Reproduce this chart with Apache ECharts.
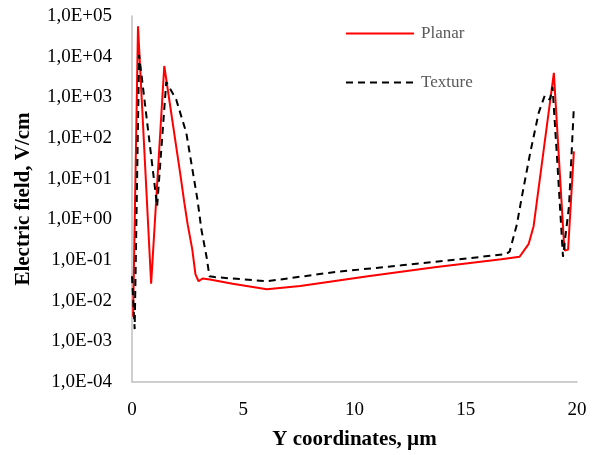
<!DOCTYPE html>
<html>
<head>
<meta charset="utf-8">
<script src="https://cdn.jsdelivr.net/npm/echarts@6/dist/echarts.min.js"></script>
<style>
  html, body { margin: 0; padding: 0; background: #fff; }
  #chart { width: 594px; height: 455px; }
</style>
</head>
<body>
<div id="chart"></div>
<script>
// data, x in um, y in V/cm
var planarX = [0.05, 0.27, 0.86, 1.45, 2.2, 2.35, 2.5, 2.71, 2.85, 2.99, 3.17, 3.5, 4.52, 6.06, 7.56, 10.6, 13.6, 16.6, 17.42, 17.83, 18.05, 18.96, 19.41, 19.46, 19.6, 19.86];
var planarY = [0.004, 56000, 0.026, 5900, 10, 2.6, 0.76, 0.18, 0.045, 0.030, 0.035, 0.033, 0.026, 0.019, 0.023, 0.040, 0.066, 0.105, 0.12, 0.25, 0.68, 4000, 0.29, 0.17, 0.18, 47];

var textureX = [0.0, 0.12, 0.32, 1.13, 1.54, 1.99, 2.44, 2.94, 3.12, 3.35, 3.48, 3.71, 6.06, 9.05, 12.1, 15.1, 16.8, 16.97, 17.3, 17.5, 17.9, 18.28, 18.55, 18.78, 18.9, 19.1, 19.37, 19.64, 19.86];
var textureY = [0.04, 0.002, 11000, 2.1, 2400, 870, 134, 3.1, 0.56, 0.12, 0.040, 0.038, 0.030, 0.050, 0.074, 0.11, 0.14, 0.16, 0.76, 3.1, 44, 420, 1100, 870, 1800, 35, 0.12, 2.1, 590];

var xTicks = [0, 5, 10, 15, 20];

function pairs(xs, ys) {
    var out = [];
    for (var i = 0; i < xs.length; i++) {
        out.push([xs[i], ys[i]]);
    }
    return out;
}

function sciLabel(v) {  // 1,0E+05 style
    var e = Math.round(Math.log10(v));
    var s = e < 0 ? '-' : '+';
    var a = Math.abs(e);
    return '1,0E' + s + (a < 10 ? '0' + a : a);
}

var font = '"Liberation Serif", "Times New Roman", serif';

var myChart = echarts.init(document.getElementById('chart'));
var option = {
    backgroundColor: '#fff',
    animation: false,
    grid: { left: 132, right: 17, top: 16, bottom: 72 },
    legend: {
        orient: 'vertical',
        left: 345,
        top: 25,
        padding: 0,
        itemGap: 32,
        itemWidth: 68,
        itemHeight: 14,
        itemStyle: { opacity: 0 },
        textStyle: { fontFamily: font, fontSize: 17, color: '#595959', padding: [0, 0, 0, 2] },
        data: ['Planar', 'Texture']
    },
    xAxis: {
        type: 'value',
        min: 0,
        max: 20,
        interval: 5,
        name: 'Y coordinates, \u00b5m',
        nameLocation: 'middle',
        nameGap: 47,
        nameTextStyle: { fontFamily: font, fontSize: 21, fontWeight: 'bold', color: '#000' },
        axisLine: { lineStyle: { color: '#bfbfbf', width: 1.5 } },
        axisTick: { show: false },
        splitLine: { show: false },
        axisLabel: { fontFamily: font, fontSize: 19, color: '#000', margin: 19 }
    },
    yAxis: {
        type: 'log',
        logBase: 10,
        min: 1e-4,
        max: 1e5,
        name: 'Electric field, V/cm',
        nameLocation: 'middle',
        nameGap: 98,
        nameTextStyle: { fontFamily: font, fontSize: 21, fontWeight: 'bold', color: '#000' },
        axisLine: { show: true, lineStyle: { color: '#bfbfbf', width: 1.5 } },
        axisTick: { show: false },
        splitLine: { show: false },
        axisLabel: { fontFamily: font, fontSize: 19, color: '#000', margin: 20, formatter: sciLabel }
    },
    series: [
        {
            name: 'Planar',
            type: 'line',
            showSymbol: false,
            symbol: 'none',
            lineStyle: { color: '#ff0000', width: 2 },
            itemStyle: { color: '#ff0000' },
            data: pairs(planarX, planarY)
        },
        {
            name: 'Texture',
            type: 'line',
            showSymbol: false,
            symbol: 'none',
            lineStyle: { color: '#000', width: 2, type: [7, 5] },
            itemStyle: { color: '#000' },
            data: pairs(textureX, textureY)
        }
    ]
};
myChart.setOption(option);
</script>
</body>
</html>
